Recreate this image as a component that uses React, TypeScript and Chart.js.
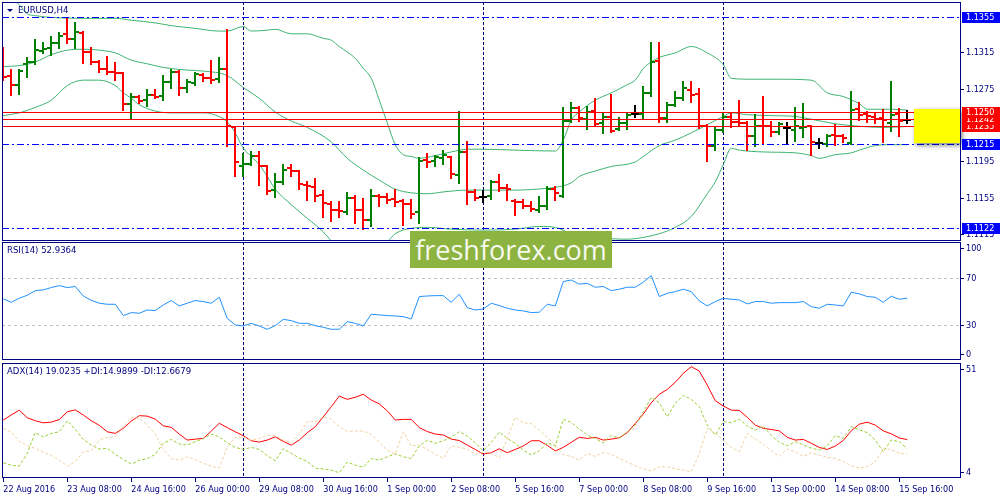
import { useEffect, useRef } from 'react'
import { Chart, registerables } from 'chart.js'
Chart.register(...registerables)

const FAMILY = '"DejaVu Sans Condensed", "DejaVu Sans", sans-serif'
const NAVY = '#000080'
const UP = '#008000'
const DOWN = '#FF0000'
const DOJI = '#000000'
const BLUE = '#0000FF'
const X_MIN = -0.16
const X_MAX = 119.59

// EURUSD H4, one entry per bar, 22 Aug 2016 00:00 .. 15 Sep 2016 20:00
const opens = [
  1.1315, 1.1290, 1.1280, 1.1303, 1.1305, 1.1317, 1.1320, 1.1326, 1.1336, 1.1330,
  1.1337, 1.1316, 1.1305, 1.1297, 1.1294, 1.1293, 1.1259, 1.1266, 1.1263, 1.1269,
  1.1268, 1.1283, 1.1294, 1.1276, 1.1282, 1.1291, 1.1287, 1.1286, 1.1297, 1.1233,
  1.1190, 1.1193, 1.1201, 1.1191, 1.1164, 1.1173, 1.1188, 1.1185, 1.1170, 1.1167,
  1.1159, 1.1149, 1.1142, 1.1140, 1.1155, 1.1142, 1.1131, 1.1157, 1.1156, 1.1154,
  1.1152, 1.1149, 1.1140, 1.1197, 1.1196, 1.1199, 1.1200, 1.1181, 1.1206, 1.1162,
  1.1156, 1.1157, 1.1173, 1.1166, 1.1152, 1.1151, 1.1146, 1.1142, 1.1146, 1.1165,
  1.1157, 1.1240, 1.1254, 1.1242, 1.1251, 1.1238, 1.1245, 1.1231, 1.1238, 1.1248,
  1.1248, 1.1271, 1.1306, 1.1243, 1.1258, 1.1265, 1.1274, 1.1270, 1.1234, 1.1213,
  1.1230, 1.1245, 1.1239, 1.1238, 1.1224, 1.1235, 1.1234, 1.1228, 1.1232, 1.1230,
  1.1232, 1.1234, 1.1216, 1.1215, 1.1225, 1.1223, 1.1216, 1.1253, 1.1248, 1.1245,
  1.1243, 1.1238, 1.1248, 1.1241,
]
const highs = [
  1.1320, 1.1296, 1.1296, 1.1309, 1.1329, 1.1326, 1.1332, 1.1337, 1.1353, 1.1348,
  1.1338, 1.1320, 1.1306, 1.1310, 1.1304, 1.1293, 1.1270, 1.1268, 1.1274, 1.1274,
  1.1290, 1.1296, 1.1295, 1.1285, 1.1293, 1.1292, 1.1306, 1.1309, 1.1340, 1.1233,
  1.1204, 1.1206, 1.1206, 1.1191, 1.1182, 1.1192, 1.1192, 1.1185, 1.1173, 1.1176,
  1.1163, 1.1151, 1.1151, 1.1161, 1.1158, 1.1154, 1.1164, 1.1159, 1.1160, 1.1164,
  1.1153, 1.1153, 1.1199, 1.1204, 1.1202, 1.1207, 1.1200, 1.1250, 1.1217, 1.1164,
  1.1163, 1.1174, 1.1181, 1.1170, 1.1153, 1.1153, 1.1151, 1.1156, 1.1167, 1.1167,
  1.1254, 1.1260, 1.1255, 1.1256, 1.1264, 1.1249, 1.1269, 1.1243, 1.1249, 1.1257,
  1.1277, 1.1326, 1.1326, 1.1260, 1.1272, 1.1283, 1.1283, 1.1275, 1.1236, 1.1233,
  1.1249, 1.1249, 1.1262, 1.1239, 1.1247, 1.1267, 1.1239, 1.1238, 1.1238, 1.1254,
  1.1259, 1.1235, 1.1220, 1.1225, 1.1236, 1.1225, 1.1272, 1.1260, 1.1250, 1.1249,
  1.1252, 1.1283, 1.1253, 1.1251,
]
const lows = [
  1.1285, 1.1269, 1.1270, 1.1289, 1.1303, 1.1315, 1.1313, 1.1320, 1.1326, 1.1320,
  1.1304, 1.1303, 1.1294, 1.1292, 1.1285, 1.1252, 1.1243, 1.1260, 1.1257, 1.1265,
  1.1263, 1.1276, 1.1269, 1.1272, 1.1280, 1.1284, 1.1282, 1.1283, 1.1213, 1.1179,
  1.1179, 1.1192, 1.1170, 1.1160, 1.1156, 1.1171, 1.1179, 1.1165, 1.1153, 1.1152,
  1.1134, 1.1130, 1.1134, 1.1138, 1.1128, 1.1121, 1.1124, 1.1146, 1.1150, 1.1146,
  1.1126, 1.1133, 1.1128, 1.1189, 1.1190, 1.1193, 1.1177, 1.1172, 1.1149, 1.1153,
  1.1151, 1.1154, 1.1163, 1.1153, 1.1137, 1.1144, 1.1141, 1.1140, 1.1143, 1.1153,
  1.1156, 1.1239, 1.1240, 1.1231, 1.1235, 1.1227, 1.1228, 1.1230, 1.1231, 1.1244,
  1.1242, 1.1268, 1.1239, 1.1239, 1.1257, 1.1263, 1.1261, 1.1232, 1.1196, 1.1208,
  1.1228, 1.1233, 1.1234, 1.1208, 1.1212, 1.1216, 1.1224, 1.1226, 1.1215, 1.1218,
  1.1222, 1.1203, 1.1210, 1.1213, 1.1214, 1.1217, 1.1215, 1.1241, 1.1239, 1.1238,
  1.1217, 1.1229, 1.1224, 1.1238,
]
const closes = [
  1.1288, 1.1280, 1.1295, 1.1305, 1.1318, 1.1319, 1.1326, 1.1334, 1.1330, 1.1338,
  1.1316, 1.1305, 1.1297, 1.1294, 1.1293, 1.1259, 1.1267, 1.1262, 1.1269, 1.1267,
  1.1283, 1.1294, 1.1276, 1.1283, 1.1292, 1.1287, 1.1285, 1.1297, 1.1234, 1.1195,
  1.1193, 1.1201, 1.1191, 1.1163, 1.1173, 1.1186, 1.1185, 1.1171, 1.1168, 1.1157,
  1.1150, 1.1142, 1.1141, 1.1155, 1.1142, 1.1131, 1.1157, 1.1156, 1.1153, 1.1151,
  1.1149, 1.1138, 1.1196, 1.1195, 1.1200, 1.1203, 1.1182, 1.1206, 1.1162, 1.1155,
  1.1156, 1.1173, 1.1166, 1.1165, 1.1151, 1.1146, 1.1143, 1.1146, 1.1165, 1.1161,
  1.1240, 1.1254, 1.1243, 1.1250, 1.1237, 1.1244, 1.1229, 1.1238, 1.1247, 1.1248,
  1.1271, 1.1305, 1.1243, 1.1258, 1.1265, 1.1276, 1.1269, 1.1234, 1.1213, 1.1230,
  1.1245, 1.1239, 1.1238, 1.1224, 1.1235, 1.1234, 1.1228, 1.1237, 1.1232, 1.1234,
  1.1233, 1.1217, 1.1216, 1.1224, 1.1223, 1.1221, 1.1252, 1.1247, 1.1246, 1.1242,
  1.1241, 1.1247, 1.1240, 1.1241,
]

// Bollinger bands, [bar, price]
const bbUpper: [number, number][] = [
  [0, 1.1385], [2, 1.1368], [3, 1.1358], [4, 1.1356], [6, 1.1354], [10, 1.1353], [14, 1.1353],
  [16, 1.1351], [19, 1.1348], [21, 1.1345], [24, 1.1342], [27, 1.1339], [28, 1.1339], [30, 1.1344],
  [31, 1.1339], [33, 1.1340], [34, 1.1341], [36, 1.1336], [38, 1.1336], [40, 1.1331], [41, 1.1329],
  [42, 1.1322], [43, 1.1316], [44, 1.1309], [45, 1.1298], [46, 1.1287], [47, 1.1263], [48, 1.1238],
  [49, 1.1214], [50, 1.1203], [51, 1.1201], [52, 1.1199], [54, 1.1202], [56, 1.1206], [58, 1.1209],
  [60, 1.1209], [64, 1.1208], [69, 1.1207], [70, 1.1219], [71, 1.1241], [72, 1.1250], [74, 1.1263],
  [76, 1.1271], [78, 1.1280], [79, 1.1285], [80, 1.1298], [81, 1.1305], [82, 1.1310], [84, 1.1315],
  [86, 1.1322], [88, 1.1315], [90, 1.1302], [91, 1.1287], [94, 1.1286], [97, 1.1286], [101, 1.1285],
  [103, 1.1271], [105, 1.1267], [107, 1.1259], [108, 1.1253], [111, 1.1253], [113, 1.1252],
]
const bbMiddle: [number, number][] = [
  [0, 1.1300], [2, 1.1301], [4, 1.1305], [6, 1.1313], [8, 1.1318], [10, 1.1319], [12, 1.1318],
  [14, 1.1315], [16, 1.1307], [18, 1.1303], [20, 1.1299], [23, 1.1296], [25, 1.1295], [28, 1.1290],
  [30, 1.1277], [32, 1.1265], [34, 1.1250], [36, 1.1240], [38, 1.1233], [41, 1.1217], [43, 1.1199],
  [45, 1.1186], [47, 1.1175], [49, 1.1165], [51, 1.1161], [53, 1.1160], [55, 1.1162], [58, 1.1164],
  [64, 1.1164], [68, 1.1166], [69, 1.1167], [71, 1.1172], [72, 1.1179], [74, 1.1185], [76, 1.1190],
  [79, 1.1195], [80, 1.1201], [82, 1.1213], [84, 1.1219], [86, 1.1227], [88, 1.1236], [90, 1.1245],
  [91, 1.1249], [93, 1.1247], [96, 1.1246], [99, 1.1245], [101, 1.1242], [104, 1.1237], [106, 1.1235],
  [110, 1.1233], [113, 1.1234],
]
const bbLower: [number, number][] = [
  [0, 1.1246], [2, 1.1249], [4, 1.1255], [6, 1.1263], [8, 1.1279], [10, 1.1285], [12, 1.1285],
  [14, 1.1279], [15, 1.1271], [16, 1.1265], [17, 1.1258], [19, 1.1251], [21, 1.1249], [25, 1.1249],
  [26, 1.1248], [28, 1.1239], [29, 1.1227], [30, 1.1210], [31, 1.1201], [32, 1.1192], [33, 1.1179],
  [34, 1.1165], [36, 1.1148], [38, 1.1133], [40, 1.1118], [42, 1.1098], [44, 1.1083], [46, 1.1091],
  [48, 1.1107], [49, 1.1116], [51, 1.1122], [53, 1.1123], [56, 1.1121], [60, 1.1120], [64, 1.1121],
  [67, 1.1124], [69, 1.1123], [71, 1.1116], [74, 1.1112], [78, 1.1110], [80, 1.1112], [82, 1.1116],
  [84, 1.1123], [86, 1.1135], [88, 1.1160], [89, 1.1173], [90, 1.1192], [91, 1.1210], [92, 1.1208],
  [95, 1.1206], [99, 1.1205], [101, 1.1202], [102, 1.1199], [104, 1.1203], [106, 1.1205], [107, 1.1208],
  [109, 1.1213], [111, 1.1214], [113, 1.1214],
]

const rsi = [
  52.3, 49.4, 52.9, 55.4, 59.4, 60.0, 62.0, 63.7, 62.0, 62.9,
  54.8, 51.1, 48.6, 47.7, 47.7, 38.0, 40.6, 40.0, 42.8, 42.3,
  47.1, 50.9, 46.3, 48.6, 50.9, 50.0, 48.6, 53.7, 35.6, 30.0,
  29.1, 31.4, 29.1, 26.3, 29.4, 34.8, 33.7, 31.4, 31.4, 29.4,
  28.0, 26.3, 26.3, 32.8, 31.4, 29.1, 39.1, 38.6, 38.0, 37.7,
  37.1, 35.1, 54.3, 54.8, 55.1, 55.1, 49.4, 56.3, 44.8, 42.8,
  43.7, 48.6, 46.6, 44.3, 42.8, 42.0, 40.6, 40.9, 47.7, 46.3,
  67.1, 68.5, 64.9, 65.7, 62.3, 62.9, 59.4, 60.6, 62.3, 62.3,
  66.6, 72.2, 54.3, 57.1, 58.5, 60.6, 58.5, 50.6, 46.3, 50.0,
  52.8, 52.0, 51.4, 48.0, 50.0, 50.0, 48.6, 49.1, 49.1, 49.1,
  50.0, 45.7, 44.3, 47.7, 47.1, 46.3, 58.0, 56.6, 54.3, 53.7,
  49.4, 54.6, 52.0, 52.9,
]
const adx = [
  27.5, 29.7, 31.8, 28.5, 27.2, 26.3, 26.6, 27.7, 31.1, 31.9,
  29.7, 27.2, 25.2, 22.4, 21.7, 23.9, 27.0, 29.4, 29.2, 27.9,
  25.0, 24.3, 21.4, 18.8, 19.2, 19.5, 22.7, 26.1, 24.2, 22.4,
  20.7, 18.5, 17.9, 18.8, 20.2, 18.2, 16.6, 18.8, 22.0, 24.6,
  28.9, 33.3, 37.9, 36.5, 37.4, 38.7, 36.2, 34.5, 31.5, 27.5,
  27.8, 27.8, 24.2, 22.5, 21.4, 21.0, 19.2, 18.6, 16.6, 14.7,
  12.7, 13.3, 15.0, 13.3, 14.7, 16.2, 18.5, 18.5, 16.5, 14.1,
  15.6, 17.8, 20.0, 19.5, 20.0, 18.8, 19.2, 19.8, 22.0, 26.0,
  30.1, 35.0, 38.7, 40.8, 43.9, 47.8, 50.7, 48.8, 42.7, 35.9,
  33.6, 31.8, 31.7, 28.7, 25.3, 23.9, 23.4, 22.8, 20.0, 18.8,
  19.1, 17.4, 15.6, 14.7, 16.2, 18.6, 22.8, 25.7, 26.6, 25.3,
  22.8, 21.5, 19.7, 19.0,
]
const plusDi = [
  8.9, 7.8, 7.5, 13.0, 22.0, 20.2, 21.7, 22.4, 27.2, 23.4,
  19.1, 16.6, 14.9, 15.2, 12.6, 10.4, 8.4, 10.0, 10.7, 12.6,
  17.4, 19.1, 17.1, 16.6, 18.1, 19.4, 21.4, 20.2, 17.6, 15.6,
  14.7, 15.6, 14.7, 12.0, 9.8, 15.0, 13.0, 11.0, 9.5, 6.6,
  6.2, 5.7, 4.6, 9.2, 7.9, 7.0, 10.7, 10.1, 11.5, 12.8,
  11.5, 10.8, 16.3, 18.7, 17.4, 18.5, 20.0, 22.4, 20.5, 17.6,
  14.1, 17.8, 22.3, 19.5, 17.4, 14.4, 12.3, 14.1, 17.6, 16.2,
  27.8, 26.5, 23.6, 21.0, 19.4, 17.6, 20.8, 19.7, 22.3, 25.3,
  31.1, 37.4, 35.0, 28.9, 34.8, 38.2, 36.5, 33.3, 25.3, 21.0,
  26.8, 26.3, 27.8, 24.9, 23.1, 24.9, 20.8, 17.9, 16.3, 18.1,
  16.7, 15.3, 14.4, 16.3, 20.8, 19.5, 24.6, 23.3, 22.0, 18.8,
  13.7, 18.8, 18.1, 15.0,
]
const minusDi = [
  23.9, 22.3, 18.2, 16.3, 15.2, 13.6, 12.1, 10.1, 7.5, 9.4,
  13.7, 14.1, 18.8, 20.0, 20.2, 24.6, 28.7, 28.2, 25.3, 21.4,
  14.7, 10.8, 10.1, 11.5, 10.3, 8.7, 7.5, 6.6, 15.9, 20.0,
  20.0, 18.8, 19.5, 21.0, 20.7, 18.8, 17.7, 21.4, 26.8, 26.8,
  28.9, 27.8, 24.6, 22.6, 22.7, 22.7, 21.3, 17.7, 14.4, 12.7,
  22.4, 16.3, 16.6, 14.7, 12.7, 10.8, 16.3, 15.6, 14.9, 12.6,
  13.6, 13.0, 11.1, 19.5, 28.7, 26.3, 26.0, 23.1, 20.0, 16.6,
  12.3, 11.7, 10.1, 13.0, 11.7, 13.3, 12.6, 10.8, 9.2, 7.6,
  6.3, 5.3, 7.2, 7.2, 6.3, 5.7, 5.0, 13.0, 23.9, 21.7,
  18.8, 15.6, 13.7, 21.7, 19.1, 17.1, 14.0, 11.8, 14.9, 13.7,
  11.7, 13.3, 12.3, 11.3, 10.8, 9.5, 7.6, 6.6, 7.2, 9.4,
  15.0, 14.7, 13.0, 12.7,
]

const timeTickBars = [0, 8, 16, 24, 32, 40, 48, 56, 64, 72, 80, 88, 96, 104, 112]
const timeTickLabels = [
  '22 Aug 2016', '23 Aug 08:00', '24 Aug 16:00', '26 Aug 00:00', '29 Aug 08:00',
  '30 Aug 16:00', '1 Sep 00:00', '2 Sep 08:00', '5 Sep 16:00', '7 Sep 00:00',
  '8 Sep 08:00', '9 Sep 16:00', '13 Sep 00:00', '14 Sep 08:00', '15 Sep 16:00',
]
const weekStartBars = [30, 60, 90]
const priceTicks = [1.1115, 1.1155, 1.1195, 1.1275, 1.1315]
const blueLevels = [1.1355, 1.1215, 1.1122]
const redLevels = [1.1235, 1.1242, 1.1250]
const zoneStartBar = 113.8
const zoneHigh = 1.1253
const zoneLow = 1.1216
const rsiGuides = [30, 70]
const rsiLabels = [100, 70, 30, 0]
const adxLabels = [51, 4]

const font = (size: number) => `${size}px ${FAMILY}`

const framePlugin = {
  id: 'frame',
  afterDraw(chart: any) {
    const { ctx, chartArea: a } = chart
    ctx.save()
    ctx.strokeStyle = NAVY
    ctx.lineWidth = 1
    ctx.strokeRect(a.left + 0.5, a.top + 0.5, a.right - a.left, a.bottom - a.top - 1)
    ctx.restore()
  },
}

const separatorPlugin = {
  id: 'separators',
  beforeDatasetsDraw(chart: any) {
    const { ctx, chartArea: a, scales } = chart
    ctx.save()
    ctx.strokeStyle = NAVY
    ctx.lineWidth = 1
    ctx.setLineDash([3, 2])
    weekStartBars.forEach(b => {
      const x = Math.round(scales.x.getPixelForValue(b)) + 0.5
      ctx.beginPath(); ctx.moveTo(x, a.top); ctx.lineTo(x, a.bottom); ctx.stroke()
    })
    ctx.restore()
  },
}

const ohlcPlugin = {
  id: 'ohlc',
  afterDatasetsDraw(chart: any) {
    const { ctx, chartArea: a, scales: { x, y } } = chart
    ctx.save()
    ctx.beginPath(); ctx.rect(a.left, a.top, a.right - a.left, a.bottom - a.top); ctx.clip()
    ctx.lineWidth = 2
    opens.forEach((o, i) => {
      const c = closes[i]
      ctx.strokeStyle = c > o ? UP : c < o ? DOWN : DOJI
      const px = Math.round(x.getPixelForValue(i))
      const py = (v: number) => Math.round(y.getPixelForValue(v))
      ctx.beginPath()
      ctx.moveTo(px, py(highs[i]) - 1); ctx.lineTo(px, py(lows[i]) + 1)
      ctx.moveTo(px - 4, py(o)); ctx.lineTo(px, py(o))
      ctx.moveTo(px, py(c)); ctx.lineTo(px + 4, py(c))
      ctx.stroke()
    })
    ctx.restore()
  },
}

const levelPlugin = {
  id: 'levels',
  afterDatasetsDraw(chart: any) {
    const { ctx, chartArea: a, scales: { y } } = chart
    ctx.save()
    ctx.lineWidth = 1
    ctx.strokeStyle = DOWN
    redLevels.forEach(v => {
      const py = Math.round(y.getPixelForValue(v)) + 0.5
      ctx.beginPath(); ctx.moveTo(a.left, py); ctx.lineTo(a.right, py); ctx.stroke()
    })
    ctx.strokeStyle = BLUE
    ctx.setLineDash([7, 3, 2, 3])
    blueLevels.forEach(v => {
      const py = Math.round(y.getPixelForValue(v)) + 0.5
      ctx.beginPath(); ctx.moveTo(a.left, py); ctx.lineTo(a.right, py); ctx.stroke()
    })
    ctx.restore()
  },
}

const zonePlugin = {
  id: 'zone',
  afterDatasetsDraw(chart: any) {
    const { ctx, chartArea: a, scales: { x, y } } = chart
    const left = Math.round(x.getPixelForValue(zoneStartBar))
    const top = Math.round(y.getPixelForValue(zoneHigh))
    const bottom = Math.round(y.getPixelForValue(zoneLow))
    ctx.save()
    ctx.shadowColor = 'rgba(0,0,0,0.55)'
    ctx.shadowBlur = 5
    ctx.shadowOffsetX = 2
    ctx.shadowOffsetY = 2
    ctx.fillStyle = '#FFFF00'
    ctx.fillRect(left, top, a.right - left, bottom - top)
    ctx.restore()
  },
}

const priceBoxPlugin = {
  id: 'priceBoxes',
  afterDraw(chart: any) {
    const { ctx, chartArea: a, scales: { y } } = chart
    ctx.save()
    ctx.font = font(9)
    ctx.textBaseline = 'middle'
    const box = (v: number, color: string) => {
      const py = Math.round(y.getPixelForValue(v))
      ctx.fillStyle = color
      ctx.fillRect(a.right + 2, py - 5, 1000 - a.right - 2, 11)
      ctx.fillStyle = '#FFFFFF'
      ctx.fillText(v.toFixed(4), a.right + 6, py + 0.5)
    }
    blueLevels.forEach(v => box(v, BLUE))
    redLevels.forEach(v => box(v, DOWN))
    ctx.restore()
  },
}

const captionPlugin = (text: string, marker: boolean) => ({
  id: 'caption',
  afterDraw(chart: any) {
    const { ctx, chartArea: a } = chart
    ctx.save()
    ctx.fillStyle = NAVY
    ctx.font = font(9.5)
    ctx.textBaseline = 'middle'
    let x = a.left + 5
    if (marker) {
      ctx.beginPath()
      ctx.moveTo(x, a.top + 7); ctx.lineTo(x + 6, a.top + 7); ctx.lineTo(x + 3, a.top + 10)
      ctx.closePath(); ctx.fill()
      x += 11
    }
    ctx.fillText(text, x, a.top + 9)
    ctx.restore()
  },
})

const guidePlugin = (values: number[]) => ({
  id: 'guides',
  beforeDatasetsDraw(chart: any) {
    const { ctx, chartArea: a, scales: { y } } = chart
    ctx.save()
    ctx.strokeStyle = '#C0C0C0'
    ctx.lineWidth = 1
    ctx.setLineDash([3, 3])
    values.forEach(v => {
      const py = Math.round(y.getPixelForValue(v)) + 0.5
      ctx.beginPath(); ctx.moveTo(a.left, py); ctx.lineTo(a.right, py); ctx.stroke()
    })
    ctx.restore()
  },
})

// indicator windows: labels pinned inside the window like the terminal does
const sideLabelPlugin = (values: number[]) => ({
  id: 'sideLabels',
  afterDraw(chart: any) {
    const { ctx, chartArea: a, scales: { y } } = chart
    ctx.save()
    ctx.strokeStyle = NAVY
    ctx.fillStyle = NAVY
    ctx.lineWidth = 1
    ctx.font = font(9)
    ctx.textBaseline = 'middle'
    values.forEach(v => {
      const raw = y.getPixelForValue(v)
      const py = Math.round(Math.min(Math.max(raw, a.top + 6), a.bottom - 6)) + 0.5
      ctx.beginPath(); ctx.moveTo(a.right, py); ctx.lineTo(a.right + 4, py); ctx.stroke()
      ctx.fillText(String(v), a.right + 6, py)
    })
    ctx.restore()
  },
})

const hiddenX = { type: 'linear', bounds: 'data', min: X_MIN, max: X_MAX, display: false }

const baseOptions = (padding: any, scales: any) => ({
  animation: false,
  responsive: true,
  maintainAspectRatio: false,
  events: [],
  layout: { padding },
  plugins: { legend: { display: false }, tooltip: { enabled: false } },
  scales,
})

const sideAxis = (min: number, max: number) => ({
  type: 'linear', bounds: 'data', position: 'right', min, max,
  afterFit: (s: any) => { s.width = 40; s.paddingTop = 0; s.paddingBottom = 0 },
  border: { display: false },
  grid: { display: false },
  ticks: { display: false },
})

const mainConfig = (): any => ({
  type: 'line',
  data: {
    datasets: [bbUpper, bbMiddle, bbLower].map(band => ({
      data: band.map(([x, y]) => ({ x, y })),
      borderColor: '#3CB371',
      borderWidth: 1,
      pointRadius: 0,
      cubicInterpolationMode: 'monotone',
    })),
  },
  options: baseOptions({ left: 2, top: 2, right: 0, bottom: 0 }, {
    x: hiddenX,
    y: {
      type: 'linear', bounds: 'data', position: 'right', min: 1.1108, max: 1.1371,
      afterBuildTicks: (s: any) => { s.ticks = priceTicks.map(value => ({ value })) },
      afterFit: (s: any) => { s.width = 40; s.paddingTop = 0; s.paddingBottom = 0 },
      border: { display: false },
      grid: { drawOnChartArea: false, tickLength: 4, color: NAVY },
      ticks: { padding: 2, color: NAVY, font: { family: FAMILY, size: 9 }, callback: (v: any) => Number(v).toFixed(4) },
    },
  }),
  plugins: [separatorPlugin, ohlcPlugin, levelPlugin, zonePlugin, framePlugin, priceBoxPlugin, captionPlugin('EURUSD,H4', true)],
})

const rsiConfig = (): any => ({
  type: 'line',
  data: {
    datasets: [{
      data: rsi.map((y, x) => ({ x, y })),
      borderColor: '#1E90FF',
      borderWidth: 1,
      pointRadius: 0,
    }],
  },
  options: baseOptions({ left: 2, top: 1, right: 0, bottom: 1 }, { x: hiddenX, y: sideAxis(0, 101) }),
  plugins: [guidePlugin(rsiGuides), separatorPlugin, framePlugin, sideLabelPlugin(rsiLabels), captionPlugin('RSI(14) 52.9364', false)],
})

const adxConfig = (): any => ({
  type: 'line',
  data: {
    datasets: [
      { data: minusDi.map((y, x) => ({ x, y })), borderColor: '#F0D2A0', borderWidth: 1, borderDash: [3, 2], pointRadius: 0 },
      { data: plusDi.map((y, x) => ({ x, y })), borderColor: '#9ACD32', borderWidth: 1, borderDash: [3, 2], pointRadius: 0 },
      { data: adx.map((y, x) => ({ x, y })), borderColor: '#FF0000', borderWidth: 1, pointRadius: 0 },
    ],
  },
  options: baseOptions({ left: 2, top: 2, right: 0, bottom: 0 }, {
    x: {
      type: 'linear', bounds: 'data', position: 'bottom', min: X_MIN, max: X_MAX,
      afterBuildTicks: (s: any) => { s.ticks = timeTickBars.map(value => ({ value })) },
      afterFit: (s: any) => { s.height = 22; s.paddingLeft = 0; s.paddingRight = 0 },
      border: { display: false },
      grid: { drawOnChartArea: false, tickLength: 4, color: NAVY },
      ticks: {
        autoSkip: false, maxRotation: 0, minRotation: 0, align: 'start', padding: 2,
        color: NAVY, font: { family: FAMILY, size: 9 },
        callback: (_v: any, i: number) => timeTickLabels[i],
      },
    },
    y: sideAxis(2.3, 52.3),
  }),
  plugins: [separatorPlugin, framePlugin, sideLabelPlugin(adxLabels), captionPlugin('ADX(14) 19.0235 +DI:14.9899 -DI:12.6679', false)],
})

function Panel({ top, height, config }: { top: number; height: number; config: () => any }) {
  const ref = useRef<HTMLCanvasElement>(null)
  useEffect(() => {
    if (!ref.current) return
    const chart = new Chart(ref.current, config())
    return () => chart.destroy()
  }, [config])
  return (
    <div style={{ position: 'absolute', left: 0, top, width: 1000, height }}>
      <canvas ref={ref} />
    </div>
  )
}

export default function App() {
  return (
    <div style={{ position: 'fixed', left: 0, top: 0, width: 1000, height: 500, background: '#fff', overflow: 'hidden' }}>
      <Panel top={0} height={241} config={mainConfig} />
      <Panel top={241} height={120} config={rsiConfig} />
      <Panel top={361} height={139} config={adxConfig} />
      <div style={{
        position: 'absolute', left: 410, top: 231, width: 202, height: 37, background: '#8DB340',
        color: '#F6F9F0', fontFamily: '"Open Sans", sans-serif', fontSize: 27, lineHeight: '37px', textAlign: 'center',
      }}>freshforex.com</div>
    </div>
  )
}
